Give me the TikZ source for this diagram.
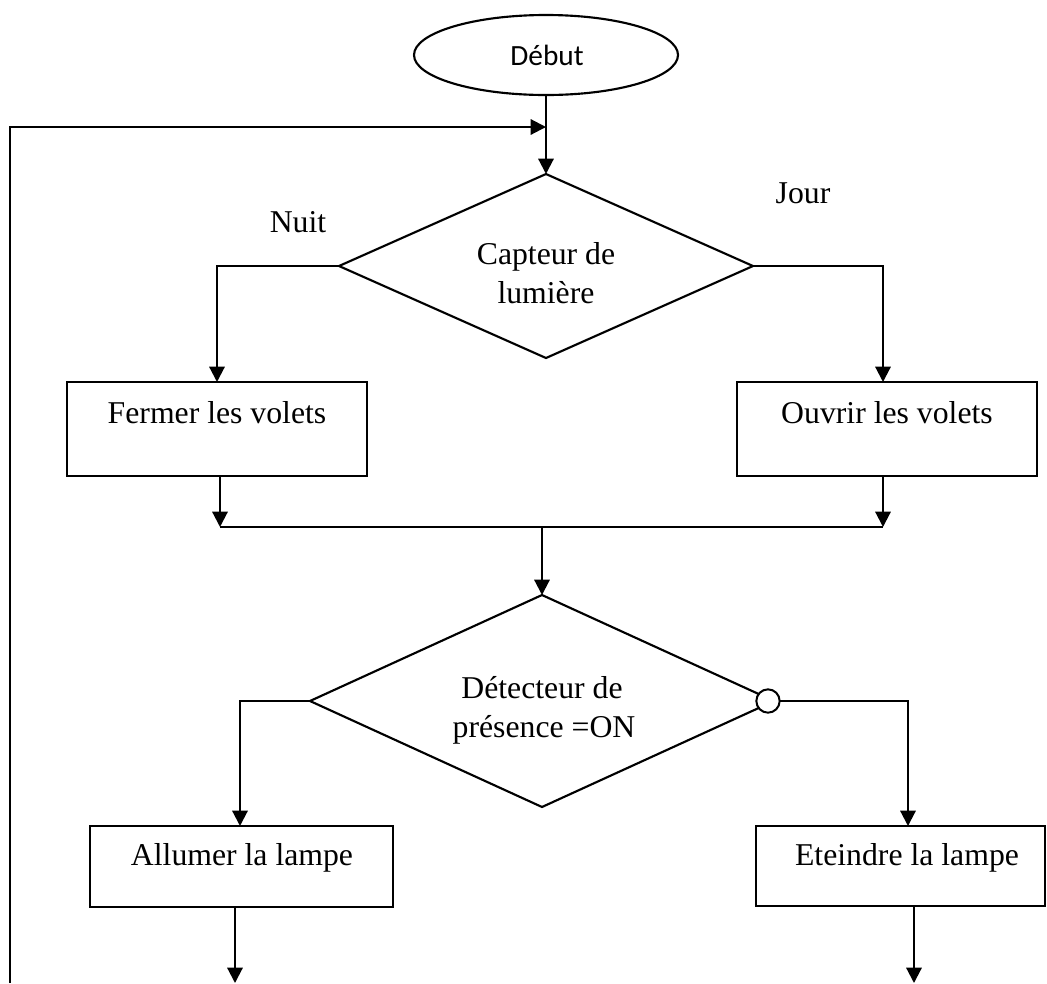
\documentclass[tikz,border=0pt]{standalone}
\usepackage{fontspec}
\setmainfont{Liberation Serif}
\newfontfamily\startfont{Carlito}
\usetikzlibrary{shapes.geometric,arrows.meta,calc}

\begin{document}
\begin{tikzpicture}[x=0.75pt,y=-0.75pt,line width=1.6pt,
  every node/.style={inner sep=0pt,outer sep=0pt},
  arr/.style={-{Triangle[length=11.5pt,width=11.5pt]}},
  stepbox/.style={draw,rectangle,line width=1.5pt},
  test/.style={draw,diamond,line width=1.6pt},
  lbl/.style={anchor=base,font=\fontsize{23.8pt}{29pt}\selectfont},
]
\useasboundingbox (0,0) rectangle (1047,983);

% start terminal
\node[draw,ellipse,minimum width=198pt,minimum height=60pt] (debut) at (546,55) {};
\node[anchor=base,font=\startfont\fontsize{22pt}{26pt}\selectfont] (debutT) at (547,65) {Début};

% light sensor decision
\node[test,minimum width=310.5pt,minimum height=138pt] (d1) at (546,266) {};
\node[lbl] (d1a) at (546,264.5) {Capteur de};
\node[lbl] (d1b) at (546,303.5) {lumière};
\node[lbl] (nuit) at (298,232.5) {Nuit};
\node[lbl] (jour) at (803,203.5) {Jour};

% shutter actions
\node[stepbox,minimum width=225pt,minimum height=70.5pt] (fermer) at (217,429) {};
\node[lbl] (fermerT) at (217,423) {Fermer les volets};
\node[stepbox,minimum width=225pt,minimum height=70.5pt] (ouvrir) at (887,429) {};
\node[lbl] (ouvrirT) at (887,423) {Ouvrir les volets};

% presence detector decision
\node[test,minimum width=348pt,minimum height=159pt] (d2) at (542,701) {};
\node[lbl] (d2a) at (542,698.5) {Détecteur de};
\node[lbl] (d2b) at (544,737.5) {présence =ON};
\node[draw,circle,fill=white,minimum size=17.5pt,line width=1.5pt] (neg) at (768,701) {};

% lamp actions
\node[stepbox,minimum width=227.25pt,minimum height=60.75pt] (allumer) at (241.5,866.5) {};
\node[lbl] (allumerT) at (242,865) {Allumer la lampe};
\node[stepbox,minimum width=216.75pt,minimum height=60pt] (eteindre) at (900.5,866) {};
\node[lbl] (eteindreT) at (907,865) {Eteindre la lampe};

% junction points
\coordinate (loopstart) at (10,983);
\coordinate (loopjoin) at (546,127);
\coordinate (mergeL) at (220,527);
\coordinate (mergeR) at (883,527);
\coordinate (mergeM) at (542,527);
\coordinate (dropA) at (240,800);
\coordinate (dropB) at (908,800);
\coordinate (endA) at (235,983);
\coordinate (endB) at (914,983);

% connectors
\draw[arr] (debut.south) -- (d1.north);
\draw[arr] (loopstart) |- (loopjoin);
\draw[arr] (d1.west) -| (fermer.north);
\draw[arr] (d1.east) -| (mergeR |- ouvrir.north);
\draw[arr] (mergeL |- fermer.south) -- (mergeL);
\draw[arr] (mergeR |- ouvrir.south) -- (mergeR);
\draw (mergeL) -- (mergeR);
\draw[arr] (mergeM) -- (d2.north);
\draw[arr] (d2.west) -| (dropA |- allumer.north);
\draw[arr] (neg.east) -| (dropB |- eteindre.north);
\draw[arr] (endA |- allumer.south) -- (endA);
\draw[arr] (endB |- eteindre.south) -- (endB);
\end{tikzpicture}
\end{document}
